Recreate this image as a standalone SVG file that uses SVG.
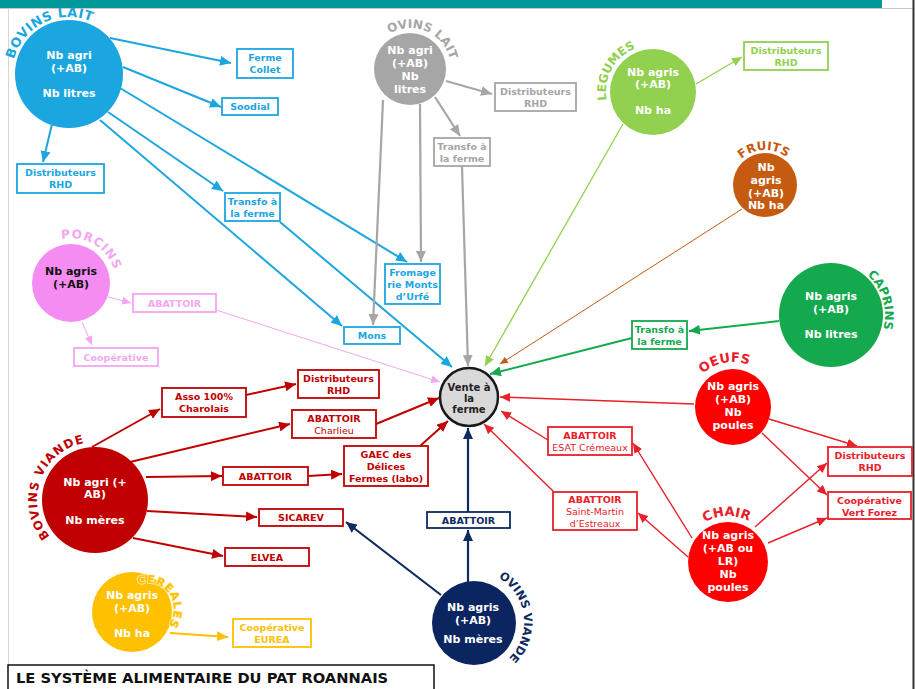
<svg xmlns="http://www.w3.org/2000/svg" width="915" height="689" viewBox="0 0 915 689">
<style>
text{font-family:"DejaVu Sans","Verdana","Liberation Sans",sans-serif;font-weight:bold;text-anchor:middle}
.c{font-size:11px;fill:#fff}
.b{font-size:9.5px}
.n{font-weight:normal}
.arc{font-size:12px;text-anchor:start}
rect.box{fill:#fff;stroke-width:1.8}
.blue{fill:#1BA6E0}.sblue{stroke:#1BA6E0}
.grey{fill:#A6A6A6}.sgrey{stroke:#A6A6A6}
.lg{fill:#92D050}.slg{stroke:#92D050}
.br{fill:#C55A11}.sbr{stroke:#C55A11}
.gr{fill:#14A94E}.sgr{stroke:#14A94E}
.pk{fill:#F4A6F0}.spk{stroke:#F4A6F0}
.dr{fill:#C00000}.sdr{stroke:#C00000}
.rd{fill:#E8202A}.srd{stroke:#E8202A}
.nv{fill:#0F2A5E}.snv{stroke:#0F2A5E}
.yl{fill:#FFC000}.syl{stroke:#FFC000}
#connectors line{fill:none}
</style>
<defs>
<marker id="mB" markerUnits="userSpaceOnUse" markerWidth="11" markerHeight="10" refX="11" refY="5" orient="auto"><path d="M0,0L11,5L0,10z" fill="#1BA6E0"/></marker>
<marker id="mG" markerUnits="userSpaceOnUse" markerWidth="11" markerHeight="10" refX="11" refY="5" orient="auto"><path d="M0,0L11,5L0,10z" fill="#A6A6A6"/></marker>
<marker id="mLG" markerUnits="userSpaceOnUse" markerWidth="10" markerHeight="9" refX="10" refY="4.5" orient="auto"><path d="M0,0L10,4.5L0,9z" fill="#92D050"/></marker>
<marker id="mBr" markerUnits="userSpaceOnUse" markerWidth="8" markerHeight="7" refX="8" refY="3.5" orient="auto"><path d="M0,0L8,3.5L0,7z" fill="#C55A11"/></marker>
<marker id="mGr" markerUnits="userSpaceOnUse" markerWidth="11" markerHeight="10" refX="11" refY="5" orient="auto"><path d="M0,0L11,5L0,10z" fill="#14A94E"/></marker>
<marker id="mP" markerUnits="userSpaceOnUse" markerWidth="9" markerHeight="8" refX="9" refY="4" orient="auto"><path d="M0,0L9,4L0,8z" fill="#F4A6F0"/></marker>
<marker id="mDR" markerUnits="userSpaceOnUse" markerWidth="11" markerHeight="10" refX="11" refY="5" orient="auto"><path d="M0,0L11,5L0,10z" fill="#C00000"/></marker>
<marker id="mR" markerUnits="userSpaceOnUse" markerWidth="10" markerHeight="9" refX="10" refY="4.5" orient="auto"><path d="M0,0L10,4.5L0,9z" fill="#E8202A"/></marker>
<marker id="mN" markerUnits="userSpaceOnUse" markerWidth="11" markerHeight="10" refX="11" refY="5" orient="auto"><path d="M0,0L11,5L0,10z" fill="#0F2A5E"/></marker>
<marker id="mY" markerUnits="userSpaceOnUse" markerWidth="11" markerHeight="10" refX="11" refY="5" orient="auto"><path d="M0,0L11,5L0,10z" fill="#FFC000"/></marker>
<path id="aBL" d="M13.9,59.3 A57,57 0 0 1 97.5,24.6"/>
<path id="aOL" d="M389.5,33.5 A41,41 0 0 1 450.6,63.3"/>
<path id="aLE" d="M606.7,100.2 A47,47 0 0 1 636.9,47.8"/>
<path id="aFR" d="M741.6,159 A35,35 0 0 1 788.4,159"/>
<path id="aCA" d="M867.1,274.9 A54,54 0 0 1 881.1,335.2"/>
<path id="aOE" d="M702.9,373.6 A45,45 0 0 1 752,366.2"/>
<path id="aCH" d="M705,522.2 A46,46 0 0 1 754.4,524.3"/>
<path id="aPO" d="M61.6,239 A45,45 0 0 1 114.5,271.4"/>
<path id="aBV" d="M49.9,536.5 A58,58 0 0 1 86.9,442.6"/>
<path id="aCE" d="M138.3,584.9 A26,26 0 0 1 169.3,623.9"/>
<path id="aOV" d="M498.5,577.8 A51,51 0 0 1 509.1,658.1"/>
</defs>

<rect width="915" height="689" fill="#fff"/>
<rect x="0" y="0" width="882" height="8" fill="#009999"/>
<line x1="0" y1="8.5" x2="913" y2="8.5" stroke="#C8C8C8" stroke-width="1"/>
<line x1="8.5" y1="9" x2="8.5" y2="665" stroke="#D6D6D6" stroke-width="1"/>
<line x1="913.5" y1="0" x2="913.5" y2="689" stroke="#333" stroke-width="2"/>

<g id="connectors" stroke-linecap="butt">
<g stroke="#1BA6E0" stroke-width="2" marker-end="url(#mB)">
<line x1="110" y1="38" x2="231" y2="63"/>
<line x1="123" y1="67" x2="221" y2="107"/>
<line x1="52" y1="124" x2="43" y2="162"/>
<line x1="108" y1="112" x2="223" y2="191"/>
<line x1="120" y1="88" x2="407" y2="262"/>
<line x1="100" y1="120" x2="342" y2="326"/>
<line x1="280" y1="222" x2="452" y2="367"/>
</g>
<g stroke="#A6A6A6" stroke-width="2.2" marker-end="url(#mG)">
<line x1="446" y1="81" x2="492" y2="94"/>
<line x1="435" y1="97" x2="460" y2="136"/>
<line x1="383" y1="100" x2="373" y2="325"/>
<line x1="420" y1="104" x2="421" y2="262"/>
<line x1="462" y1="166" x2="468" y2="366"/>
</g>
<g stroke="#92D050" stroke-width="1.3" marker-end="url(#mLG)">
<line x1="696" y1="84" x2="742" y2="57"/>
<line x1="623" y1="124" x2="485" y2="366"/>
</g>
<line x1="742" y1="209" x2="500" y2="364" stroke="#C55A11" stroke-width="1" marker-end="url(#mBr)"/>
<g stroke="#14A94E" stroke-width="2" marker-end="url(#mGr)">
<line x1="779" y1="321" x2="689" y2="331"/>
<line x1="632" y1="338" x2="490" y2="374"/>
</g>
<g stroke="#F4A6F0" stroke-width="1" marker-end="url(#mP)">
<line x1="108" y1="297" x2="131" y2="303"/>
<line x1="82" y1="322" x2="92" y2="345"/>
<line x1="216" y1="310" x2="440" y2="382"/>
</g>
<g stroke="#C00000" stroke-width="2" marker-end="url(#mDR)">
<line x1="92" y1="447" x2="160" y2="409"/>
<line x1="246" y1="395" x2="296" y2="384"/>
<line x1="130" y1="462" x2="290" y2="424"/>
<line x1="146" y1="477" x2="222" y2="476"/>
<line x1="308" y1="476" x2="342" y2="474"/>
<line x1="147" y1="511" x2="257" y2="517"/>
<line x1="133" y1="538" x2="223" y2="556"/>
<line x1="376" y1="424" x2="439" y2="398"/>
<line x1="420" y1="446" x2="448" y2="421"/>
</g>
<g stroke="#E8202A" stroke-width="1.4" marker-end="url(#mR)">
<line x1="694" y1="404" x2="500" y2="397"/>
<line x1="769" y1="419" x2="857" y2="446"/>
<line x1="762" y1="433" x2="827" y2="495"/>
<line x1="755" y1="527" x2="827" y2="463"/>
<line x1="768" y1="543" x2="827" y2="518"/>
<line x1="692" y1="538" x2="633" y2="443"/>
<line x1="688" y1="557" x2="638" y2="513"/>
<line x1="548" y1="440" x2="501" y2="411"/>
<line x1="553" y1="491" x2="484" y2="424"/>
</g>
<g stroke="#0F2A5E" stroke-width="2.2" marker-end="url(#mN)">
<line x1="468" y1="582" x2="468" y2="530"/>
<line x1="468" y1="512" x2="468" y2="428"/>
<line x1="441" y1="595" x2="346" y2="522"/>
</g>
<line x1="170" y1="633" x2="228" y2="637" stroke="#FFC000" stroke-width="2" marker-end="url(#mY)"/>
</g>

<g id="bovins-lait">
<circle cx="69" cy="74" r="54" class="blue"/>
<text class="c" x="69" y="59">Nb agri</text>
<text class="c" x="69" y="72">(+AB)</text>
<text class="c" x="69" y="97">Nb litres</text>
<text class="arc blue" style="font-size:13px;letter-spacing:0.5px"><textPath href="#aBL">BOVINS LAIT</textPath></text>
</g>
<g id="ferme-collet"><rect class="box sblue" x="237" y="49" width="56" height="29"/><text class="b blue" x="265" y="61">Ferme</text><text class="b blue" x="265" y="73">Collet</text></g>
<g id="soodial"><rect class="box sblue" x="222" y="98" width="56" height="17"/><text class="b blue" x="250" y="110">Soodial</text></g>
<g id="distrib-bl"><rect class="box sblue" x="17" y="164" width="87" height="29"/><text class="b blue" x="60.5" y="176">Distributeurs</text><text class="b blue" x="60.5" y="188">RHD</text></g>
<g id="transfo-bl"><rect class="box sblue" x="225" y="193" width="55" height="28"/><text class="b blue" x="252.5" y="205">Transfo à</text><text class="b blue" x="252.5" y="217">la ferme</text></g>
<g id="fromagerie"><rect class="box sblue" x="385" y="264" width="55" height="40"/><text class="b blue" x="412.5" y="276">Fromage</text><text class="b blue" x="412.5" y="288">rie Monts</text><text class="b blue" x="412.5" y="300">d’Urfé</text></g>
<g id="mons"><rect class="box sblue" x="344" y="327" width="56" height="17"/><text class="b blue" x="372" y="339">Mons</text></g>

<g id="ovins-lait">
<circle cx="410" cy="69" r="36" class="grey"/>
<text class="c" x="410" y="54">Nb agri</text>
<text class="c" x="410" y="67">(+AB)</text>
<text class="c" x="410" y="80">Nb</text>
<text class="c" x="410" y="93">litres</text>
<text class="arc grey"><textPath href="#aOL">OVINS LAIT</textPath></text>
</g>
<g id="distrib-ol"><rect class="box sgrey" x="495" y="83" width="81" height="28"/><text class="b grey" x="535.5" y="95">Distributeurs</text><text class="b grey" x="535.5" y="107">RHD</text></g>
<g id="transfo-ol"><rect class="box sgrey" x="434" y="138" width="56" height="28"/><text class="b grey" x="462" y="150">Transfo à</text><text class="b grey" x="462" y="162">la ferme</text></g>

<g id="legumes">
<circle cx="653" cy="92" r="43" class="lg"/>
<text class="c" x="653" y="76">Nb agris</text>
<text class="c" x="653" y="88">(+AB)</text>
<text class="c" x="653" y="114">Nb ha</text>
<text class="arc lg"><textPath href="#aLE">LEGUMES</textPath></text>
</g>
<g id="distrib-lg"><rect class="box slg" x="744" y="42" width="84" height="28"/><text class="b lg" x="786" y="54">Distributeurs</text><text class="b lg" x="786" y="66">RHD</text></g>

<g id="fruits">
<circle cx="765" cy="185" r="32" class="br"/>
<text class="c" x="766" y="171">Nb</text>
<text class="c" x="766" y="184">agris</text>
<text class="c" x="766" y="197">(+AB)</text>
<text class="c" x="766" y="209">Nb ha</text>
<text class="arc br"><textPath href="#aFR">FRUITS</textPath></text>
</g>

<g id="caprins">
<circle cx="831" cy="315" r="52" class="gr"/>
<text class="c" x="831" y="300">Nb agris</text>
<text class="c" x="831" y="313">(+AB)</text>
<text class="c" x="831" y="338">Nb litres</text>
<text class="arc gr"><textPath href="#aCA">CAPRINS</textPath></text>
</g>
<g id="transfo-ca"><rect class="box sgr" x="632" y="321" width="55" height="28"/><text class="b gr" x="659.5" y="333">Transfo à</text><text class="b gr" x="659.5" y="345">la ferme</text></g>

<g id="oeufs">
<circle cx="733" cy="407" r="38" fill="#FF0000"/>
<text class="c" x="733" y="390">Nb agris</text>
<text class="c" x="733" y="403">(+AB)</text>
<text class="c" x="733" y="416">Nb</text>
<text class="c" x="733" y="429">poules</text>
<text class="arc rd" style="font-size:13px"><textPath href="#aOE">OEUFS</textPath></text>
</g>
<g id="chair">
<circle cx="728" cy="562" r="40" fill="#FF0000"/>
<text class="c" x="728" y="539">Nb agris</text>
<text class="c" x="728" y="552">(+AB ou</text>
<text class="c" x="728" y="565">LR)</text>
<text class="c" x="728" y="578">Nb</text>
<text class="c" x="728" y="591">poules</text>
<text class="arc rd" style="font-size:13px"><textPath href="#aCH">CHAIR</textPath></text>
</g>
<g id="abattoir-esat"><rect class="box srd" x="548" y="427" width="84" height="28"/><text class="b rd" x="590" y="439">ABATTOIR</text><text class="b rd n" x="590" y="451">ESAT Crémeaux</text></g>
<g id="abattoir-stmartin"><rect class="box srd" x="553" y="492" width="84" height="38"/><text class="b rd" x="595" y="503">ABATTOIR</text><text class="b rd n" x="595" y="515">Saint-Martin</text><text class="b rd n" x="595" y="527">d’Estreaux</text></g>
<g id="distrib-rd"><rect class="box srd" x="828" y="447" width="84" height="29"/><text class="b rd" x="870" y="459">Distributeurs</text><text class="b rd" x="870" y="471">RHD</text></g>
<g id="coop-vertforez"><rect class="box srd" x="828" y="492" width="83" height="27"/><text class="b rd" x="869.5" y="504">Coopérative</text><text class="b rd" x="869.5" y="516">Vert Forez</text></g>

<g id="vente">
<circle cx="469" cy="397" r="29" fill="#D9D9D9" stroke="#1a1a1a" stroke-width="2.5"/>
<text x="469" y="391" style="font-size:10px" fill="#222">Vente à</text>
<text x="469" y="402" style="font-size:10px" fill="#222">la</text>
<text x="469" y="413" style="font-size:10px" fill="#222">ferme</text>
</g>

<g id="porcins">
<circle cx="71" cy="283" r="39" fill="#F48CF2"/>
<text x="71" y="275" style="font-size:11px" fill="#111">Nb agris</text>
<text x="71" y="288" style="font-size:11px" fill="#111">(+AB)</text>
<text class="arc pk" style="letter-spacing:1px"><textPath href="#aPO">PORCINS</textPath></text>
</g>
<g id="abattoir-pc"><rect class="box spk" x="133" y="294" width="83" height="18"/><text class="b pk" x="174.5" y="306.5">ABATTOIR</text></g>
<g id="coop-pc"><rect class="box spk" x="74" y="348" width="84" height="18"/><text class="b pk" x="116" y="360.5">Coopérative</text></g>

<g id="bovins-viande">
<circle cx="95" cy="500" r="53" class="dr"/>
<text class="c" x="95" y="486">Nb agri (+</text>
<text class="c" x="95" y="498">AB)</text>
<text class="c" x="95" y="524">Nb mères</text>
<text class="arc dr" style="letter-spacing:1px"><textPath href="#aBV">BOVINS VIANDE</textPath></text>
</g>
<g id="asso"><rect class="box sdr" x="162" y="388" width="84" height="29"/><text class="b dr" x="204" y="400">Asso 100%</text><text class="b dr" x="204" y="412">Charolais</text></g>
<g id="distrib-bv"><rect class="box sdr" x="298" y="370" width="81" height="28"/><text class="b dr" x="338.5" y="382">Distributeurs</text><text class="b dr" x="338.5" y="394">RHD</text></g>
<g id="abattoir-charlieu"><rect class="box sdr" x="292" y="410" width="84" height="28"/><text class="b dr" x="334" y="422">ABATTOIR</text><text class="b dr n" x="334" y="434">Charlieu</text></g>
<g id="abattoir-bv"><rect class="box sdr" x="223" y="467" width="85" height="18"/><text class="b dr" x="265.5" y="479.5">ABATTOIR</text></g>
<g id="gaec"><rect class="box sdr" x="344" y="446" width="84" height="40"/><text class="b dr" x="386" y="458">GAEC des</text><text class="b dr" x="386" y="470">Délices</text><text class="b dr" x="386" y="482">Fermes (labo)</text></g>
<g id="sicarev"><rect class="box sdr" x="259" y="509" width="84" height="17"/><text class="b dr" x="301" y="521">SICAREV</text></g>
<g id="elvea"><rect class="box sdr" x="225" y="548" width="84" height="18"/><text class="b dr" x="267" y="560.5">ELVEA</text></g>

<g id="ovins-viande">
<circle cx="474" cy="623" r="42" fill="#0B2560"/>
<text class="c" x="473" y="611">Nb agris</text>
<text class="c" x="473" y="624">(+AB)</text>
<text class="c" x="473" y="643">Nb mères</text>
<text class="arc nv" style="font-size:11.5px"><textPath href="#aOV">OVINS VIANDE</textPath></text>
</g>
<g id="abattoir-ov"><rect class="box snv" x="427" y="512" width="83" height="16"/><text class="b nv" x="468.5" y="524">ABATTOIR</text></g>

<g id="cereales">
<circle cx="132" cy="612" r="40" class="yl"/>
<text class="c" x="132" y="599">Nb agris</text>
<text class="c" x="132" y="612">(+AB)</text>
<text class="c" x="132" y="637">Nb ha</text>
<text class="arc yl" style="font-size:11px;letter-spacing:0.7px;stroke:#FFEFB0;stroke-width:1.6px;paint-order:stroke"><textPath href="#aCE">CEREALES</textPath></text>
</g>
<g id="coop-eurea"><rect class="box syl" x="233" y="619" width="78" height="28"/><text class="b yl" x="272" y="631">Coopérative</text><text class="b yl" x="272" y="643">EUREA</text></g>

<g id="title">
<rect x="8" y="665" width="426" height="26" fill="#fff" stroke="#111" stroke-width="1.5"/>
<text x="16" y="683" style="font-size:14.7px;text-anchor:start" fill="#111">LE SYSTÈME ALIMENTAIRE DU PAT ROANNAIS</text>
</g>
</svg>
